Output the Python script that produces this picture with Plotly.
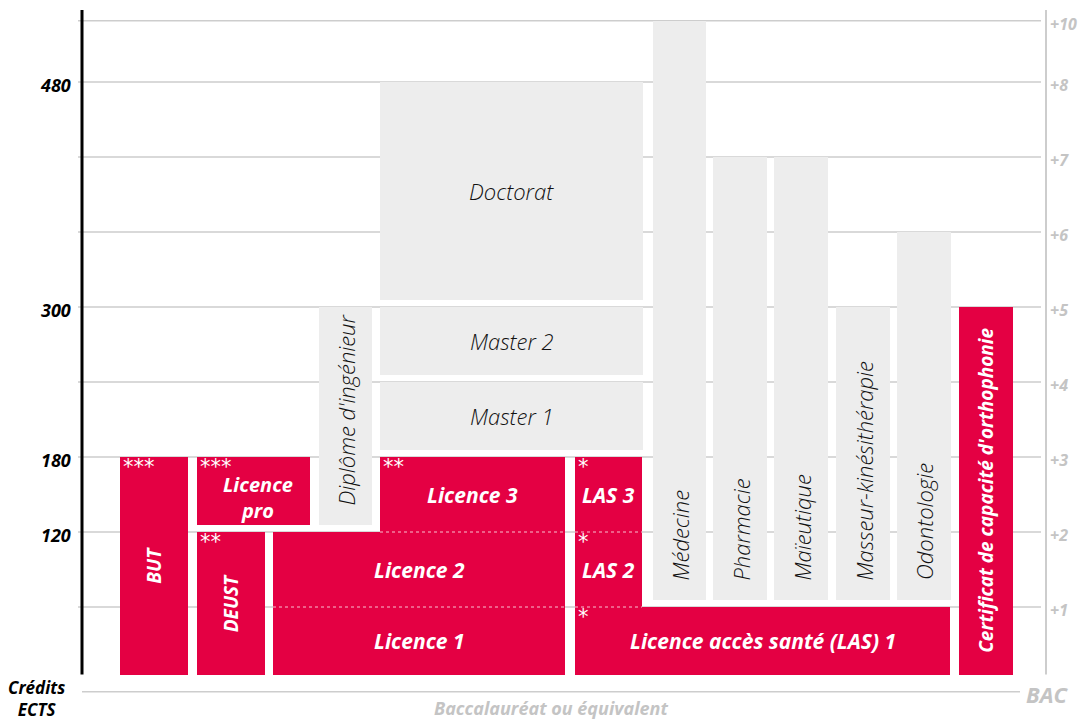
import plotly.graph_objects as go

# ---------------- data ----------------
box_text = ["BUT", "Licence<br>pro", "DEUST", "Licence 1", "Licence 2", "Licence 3",
            "Diplôme d'ingénieur", "Master 1", "Master 2", "Doctorat",
            "Licence accès santé (LAS) 1", "LAS 2", "LAS 3",
            "Médecine", "Pharmacie", "Maïeutique", "Masseur-kinésithérapie", "Odontologie",
            "Certificat de capacité d'orthophonie"]
# column extents (diagram units) and years after the bac
box_col_from = [120, 197, 197, 273, 273, 380, 319, 380, 380, 380, 575, 575, 575, 653, 713, 774, 836, 897, 959]
box_col_to = [188, 310, 265, 565, 565, 565, 372, 643, 643, 643, 950, 642, 642, 706, 767, 828, 890, 951, 1013]
box_year_from = [0, 2, 0, 0, 1, 2, 2, 3, 4, 5, 0, 1, 2, 1, 1, 1, 1, 1, 0]
box_year_to = [3, 3, 2, 1, 2, 3, 5, 4, 5, 8, 1, 2, 3, 10, 7, 7, 5, 6, 5]
box_group = ["red", "red", "red", "red", "red", "red", "grey", "grey", "grey", "grey",
             "red", "red", "red", "grey", "grey", "grey", "grey", "grey", "red"]
box_vertical = [True, False, True, False, False, False, True, False, False, False,
                False, False, False, True, True, True, True, True, True]
box_stacked = [False, False, False, False, True, True, False, False, False, False,
               False, True, True, False, False, False, False, False, False]
box_stars = ["***", "***", "**", "", "", "**", "", "", "", "", "*", "*", "*",
             "", "", "", "", "", ""]

ects_years = [2, 3, 5, 8]
ects_labels = ["120", "180", "300", "480"]
year_ticks = [1, 2, 3, 4, 5, 6, 7, 8, 10]
year_labels = ["+1", "+2", "+3", "+4", "+5", "+6", "+7", "+8", "+10"]

# ---------------- style ----------------
RED = "#E40043"
GREY = "#EDEDED"
GRID = "#CDCDCD"
LIGHT = "#C4C4C4"
GAP = 0.1
FONT = "Open Sans"


def ypos(year):
    # years above +8 are compressed at the top of the diagram
    return year if year <= 8 else 8 + (year - 8) * 0.4085


fig = go.Figure()

for grp, col in (("red", RED), ("grey", GREY)):
    xs, ws, bases, hs, names = [], [], [], [], []
    for i in range(len(box_text)):
        if box_group[i] != grp:
            continue
        b = ypos(box_year_from[i]) + (0 if box_stacked[i] else GAP)
        t = ypos(box_year_to[i])
        xs.append((box_col_from[i] + box_col_to[i]) / 2)
        ws.append(box_col_to[i] - box_col_from[i])
        bases.append(b)
        hs.append(t - b)
        names.append(box_text[i].replace("<br>", " "))
    fig.add_trace(go.Bar(x=xs, y=hs, base=bases, width=ws, marker=dict(color=col, line=dict(width=0)),
                         hovertext=names, hoverinfo="text", showlegend=False))

shapes = []
for yt in year_ticks:
    shapes.append(dict(type="line", xref="x", yref="y", x0=78, x1=1041, y0=ypos(yt), y1=ypos(yt),
                       line=dict(color=GRID, width=1.5), layer="below"))
shapes.append(dict(type="line", x0=82, x1=82, y0=GAP, y1=8.96, line=dict(color="black", width=3)))
shapes.append(dict(type="line", x0=1046, x1=1046, y0=GAP, y1=8.96, line=dict(color=GRID, width=2)))
shapes.append(dict(type="line", x0=82, x1=1020, y0=-0.13, y1=-0.13, line=dict(color=GRID, width=1.5)))
for i in range(len(box_text)):
    if box_stacked[i]:
        shapes.append(dict(type="line", x0=box_col_from[i], x1=box_col_to[i],
                           y0=ypos(box_year_from[i]), y1=ypos(box_year_from[i]),
                           line=dict(color="rgba(255,255,255,0.75)", width=1, dash="dot"), layer="above"))

ann = []
for i in range(len(box_text)):
    red = box_group[i] == "red"
    b = ypos(box_year_from[i]) + (0 if box_stacked[i] else GAP)
    t = ypos(box_year_to[i])
    cx = (box_col_from[i] + box_col_to[i]) / 2
    multi = "<br>" in box_text[i]
    if red:
        size = 19 if box_vertical[i] else (20 if multi else 21)
        f = dict(family=FONT, size=size, color="white", weight=700, style="italic")
    else:
        f = dict(family=FONT, size=22, color="#111111", weight=300, style="italic")
    if box_vertical[i]:
        if red:
            ann.append(dict(x=cx, y=(b + t) / 2, text=box_text[i], textangle=-90, showarrow=False,
                            xanchor="center", yanchor="middle", font=f))
        else:
            ann.append(dict(x=cx, y=b, text=box_text[i], textangle=-90, showarrow=False,
                            xanchor="center", yanchor="bottom", yshift=17, font=f))
    else:
        ann.append(dict(x=cx, y=(b + t) / 2, text=box_text[i], showarrow=False,
                        xanchor="center", yanchor="middle", yshift=-7 if multi else 0,
                        xshift=4 if multi else 0, font=f))
    if box_stars[i]:
        ann.append(dict(x=box_col_from[i], y=t, text=box_stars[i], showarrow=False,
                        xanchor="left", yanchor="top", xshift=2, yshift=3, borderpad=0,
                        font=dict(family="DejaVu Sans", size=21, color="white")))

for yv, lab in zip(ects_years, ects_labels):
    ann.append(dict(x=73, y=ypos(yv), text=lab, showarrow=False, xanchor="right", yanchor="middle",
                    yshift=-3, font=dict(family=FONT, size=18, color="black", weight=700, style="italic")))
for yv, lab in zip(year_ticks, year_labels):
    ann.append(dict(x=1048, y=ypos(yv), text=lab, showarrow=False, xanchor="left", yanchor="middle",
                    yshift=-3, font=dict(family=FONT, size=16, color=LIGHT, weight=700, style="italic")))
ann.append(dict(x=36, y=-0.225, text="Crédits<br>ECTS", showarrow=False, xanchor="center", yanchor="middle",
                borderpad=0, font=dict(family=FONT, size=17, color="black", weight=700, style="italic")))
ann.append(dict(x=1047, y=-0.16, text="BAC", showarrow=False, xanchor="center", yanchor="middle",
                font=dict(family=FONT, size=22, color=LIGHT, weight=700, style="italic")))
ann.append(dict(x=551, y=-0.34, text="Baccalauréat ou équivalent", showarrow=False, xanchor="center",
                yanchor="middle", font=dict(family=FONT, size=18, color=LIGHT, weight=700, style="italic")))

fig.update_layout(
    width=1081, height=720, margin=dict(l=0, r=0, t=0, b=0),
    paper_bgcolor="white", plot_bgcolor="white", barmode="overlay", bargap=0,
    xaxis=dict(range=[0, 1081], visible=False, fixedrange=True),
    yaxis=dict(range=[-0.5067, 9.0933], visible=False, fixedrange=True),
    shapes=shapes, annotations=ann,
)

fig.write_html("out.html", config={"displayModeBar": False},
               post_script="document.body.style.margin='0';document.body.style.overflow='hidden';")
